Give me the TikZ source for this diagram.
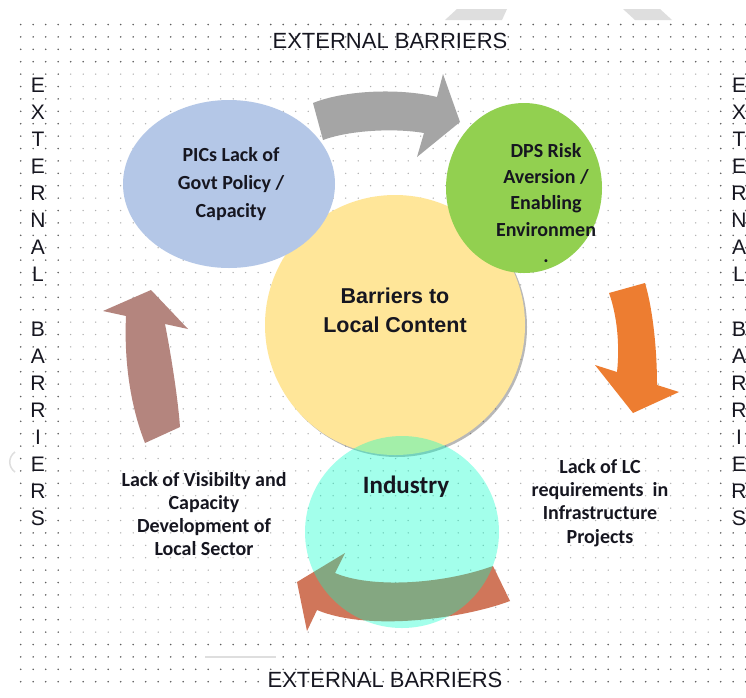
\documentclass[tikz,border=0pt]{standalone}
\usepackage{fontspec}
\setmainfont{Liberation Sans}
\newfontfamily\calibfont{Carlito}
\usetikzlibrary{shapes.geometric}

\definecolor{picblue}{RGB}{180,199,231}
\definecolor{dpsgreen}{RGB}{146,208,80}
\definecolor{coreyellow}{RGB}{255,230,153}
\definecolor{indcyan}{RGB}{0,255,200}
\definecolor{arrgrey}{RGB}{165,165,165}
\definecolor{arrorange}{RGB}{237,125,49}
\definecolor{arrmauve}{RGB}{180,133,126}
\definecolor{arrcoral}{RGB}{208,118,90}
\definecolor{inktext}{RGB}{22,22,32}
\definecolor{dotdark}{RGB}{95,95,95}
\definecolor{dotlight}{RGB}{175,175,175}
\definecolor{ghost}{RGB}{222,222,222}

\begin{document}
\begin{tikzpicture}[x=1pt,y=-1pt,
  bubble/.style={ellipse, inner sep=0pt, draw=none},
  lbl/.style={font=\calibfont\bfseries\fontsize{20}{22.7}\selectfont, align=center, text=inktext, inner sep=0pt},
  barrier/.style={font=\fontsize{22}{26}\selectfont, text=inktext, inner sep=0pt},
  letter/.style={font=\fontsize{21}{24}\selectfont, text=inktext, inner sep=0pt},
  core/.style={font=\bfseries\fontsize{21.5}{29}\selectfont, align=center, text=inktext, inner sep=0pt},
]
\useasboundingbox (0,0) rectangle (746,697);
\fill[white] (0,0) rectangle (746,697);

% dotted grid paper
\foreach \i in {0,...,58} {
  \foreach \j in {0,...,53} {
    \fill[dotlight] (20.7+12.5*\i, 24.5+12.4*\j) circle (0.75);
  }
}
\foreach \i in {0,...,58} {
  \foreach \j in {0,1,2,3,50,51,52,53} {
    \fill[dotdark] (20.7+12.5*\i, 24.5+12.4*\j) circle (0.8);
  }
}
\foreach \i in {0,1,2,3,56,57,58} {
  \foreach \j in {4,...,49} {
    \fill[dotdark] (20.7+12.5*\i, 24.5+12.4*\j) circle (0.8);
  }
}

% faint marks at the page edges
\fill[ghost] (457,9) -- (507,9) -- (502,20) -- (445,20) -- cycle;
\fill[ghost] (623,9) -- (660,9) -- (672,20) -- (635,20) -- cycle;
\draw[ghost, line width=1.5] (205,657) -- (276,657);
\draw[ghost, line width=1.5] (15,452) .. controls (8,457) and (8,467) .. (15,472);

% border labels
\node[barrier] (topbar) at (390,41) {EXTERNAL BARRIERS};
\node[barrier] (botbar) at (385,680) {EXTERNAL BARRIERS};
\foreach \c [count=\k from 0] in {E,X,T,E,R,N,A,L,{},B,A,R,R,I,E,R,S} {
  \node[letter] (lv\k) at (38, 85+27.1*\k) {\c};
  \node[letter] (rv\k) at (739, 85+27.1*\k) {\c};
}

% central circle with its soft shadow
\fill[black, opacity=0.28] (397,327) circle (130);
\node[bubble, circle, fill=coreyellow, minimum size=260pt] (core) at (395,325) {};

% outer bubbles
\node[bubble, fill=picblue, minimum width=212pt, minimum height=168pt] (pics) at (229,184) {};
\node[bubble, fill=dpsgreen, minimum width=156pt, minimum height=170pt] (dps) at (524,188) {};

% cycle arrows
\fill[arrgrey] (323,140) -- (313,103)
  .. controls (345,90) and (400,88) .. (437,97)
  -- (443,74) -- (460,122) -- (417,157) -- (424,133)
  .. controls (395,128) and (350,130) .. (323,140) -- cycle;
\fill[arrorange] (609,293) -- (645,283)
  .. controls (653,310) and (657,350) .. (657,385)
  -- (679,392) -- (633,413) -- (595,365) -- (617,372)
  .. controls (620,345) and (617,315) .. (609,293) -- cycle;
\fill[arrmauve] (151,290) -- (188,329) -- (165,324)
  .. controls (172,360) and (178,400) .. (180,427)
  -- (145,443)
  .. controls (130,405) and (124,360) .. (126,316)
  -- (103,311) -- cycle;
\fill[arrcoral] (493,566) -- (510,601)
  .. controls (465,618) and (370,632) .. (317,610)
  -- (307,631) -- (297,582) -- (345,553) -- (335,573)
  .. controls (370,588) and (440,585) .. (493,566) -- cycle;

% industry bubble, see-through
\node[bubble, fill=indcyan, fill opacity=0.36, minimum width=194pt, minimum height=192pt] (ind) at (402,532) {};

% texts
\node[core] (coretext) at (395,310) {Barriers to\\Local Content};
\node[lbl, font=\calibfont\bfseries\fontsize{20}{28}\selectfont] (picstext) at (231,184) {PICs Lack of\\Govt Policy /\\Capacity};
\node[lbl, font=\calibfont\bfseries\fontsize{20}{26.3}\selectfont] (dpstext) at (546,203) {DPS Risk\\Aversion /\\Enabling\\Environmen\\.};
\node[lbl, font=\calibfont\bfseries\fontsize{25}{30}\selectfont] (indtext) at (406,487) {Industry};
\node[lbl] (vistext) at (204,514) {Lack of Visibilty and\\Capacity\\Development of\\Local Sector};
\node[lbl, font=\calibfont\bfseries\fontsize{20}{23.3}\selectfont] (lctext) at (600,503) {Lack of LC\\requirements~ in\\Infrastructure\\Projects};
\end{tikzpicture}
\end{document}
